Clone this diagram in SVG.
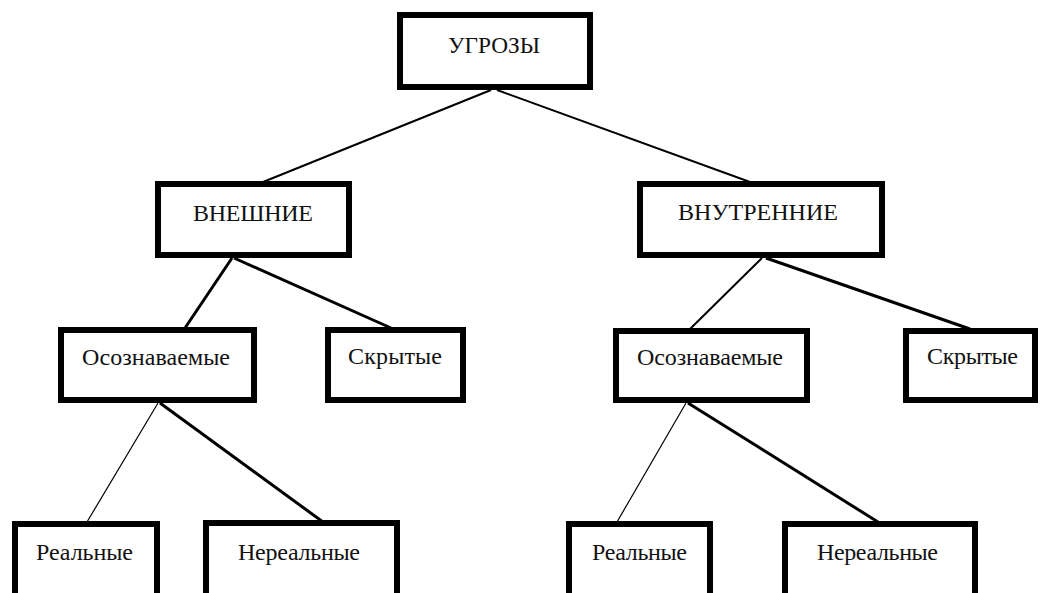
<svg xmlns="http://www.w3.org/2000/svg" width="1040" height="593" viewBox="0 0 1040 593">
<style>
  .box { fill: #ffffff; stroke: #000000; stroke-width: 6; }
  .lbl { font-family: "Liberation Serif", "Times New Roman", serif; font-size: 24px; fill: #111111; }
  .c1 { stroke: #000000; stroke-width: 1.2; fill: none; }
  .c2 { stroke: #000000; stroke-width: 2; fill: none; }
  .c3 { stroke: #000000; stroke-width: 3; fill: none; }
</style>
<rect x="0" y="0" width="1040" height="593" fill="#ffffff"/>
<g id="connectors">
  <line class="c2" x1="491" y1="90" x2="263" y2="182"/>
  <line class="c2" x1="497" y1="90" x2="750" y2="182"/>
  <line class="c3" x1="232" y1="258" x2="185" y2="328"/>
  <line class="c3" x1="234" y1="258" x2="391" y2="328"/>
  <line class="c2" x1="762" y1="258" x2="690" y2="329"/>
  <line class="c3" x1="766" y1="258" x2="970" y2="329"/>
  <line class="c1" x1="158" y1="403" x2="87" y2="522"/>
  <line class="c3" x1="160" y1="403" x2="323" y2="522"/>
  <line class="c1" x1="686" y1="403" x2="617" y2="522"/>
  <line class="c3" x1="688" y1="403" x2="878" y2="522"/>
</g>
<g id="n-ugrozy">
  <rect class="box" x="400" y="15" width="190" height="72"/>
  <text class="lbl" x="448" y="53" textLength="92" lengthAdjust="spacingAndGlyphs">УГРОЗЫ</text>
</g>
<g id="n-vneshnie">
  <rect class="box" x="158" y="184" width="191" height="71"/>
  <text class="lbl" x="193" y="221" textLength="120">ВНЕШНИЕ</text>
</g>
<g id="n-vnutrennie">
  <rect class="box" x="640" y="184" width="242" height="71"/>
  <text class="lbl" x="678" y="220" textLength="160">ВНУТРЕННИЕ</text>
</g>
<g id="n-osozn-l">
  <rect class="box" x="61" y="330" width="193" height="70"/>
  <text class="lbl" x="82" y="365" textLength="148">Осознаваемые</text>
</g>
<g id="n-skryt-l">
  <rect class="box" x="328" y="330" width="135" height="70"/>
  <text class="lbl" x="348" y="364" textLength="94">Скрытые</text>
</g>
<g id="n-osozn-r">
  <rect class="box" x="616" y="331" width="191" height="69"/>
  <text class="lbl" x="637" y="365" textLength="146">Осознаваемые</text>
</g>
<g id="n-skryt-r">
  <rect class="box" x="906" y="331" width="129" height="69"/>
  <text class="lbl" x="927" y="364" textLength="91">Скрытые</text>
</g>
<g id="n-real-l">
  <rect class="box" x="15" y="524" width="142" height="80"/>
  <text class="lbl" x="36" y="560" textLength="97">Реальные</text>
</g>
<g id="n-nereal-l">
  <rect class="box" x="206" y="523" width="191" height="80"/>
  <text class="lbl" x="238" y="560" textLength="122">Нереальные</text>
</g>
<g id="n-real-r">
  <rect class="box" x="569" y="524" width="141" height="80"/>
  <text class="lbl" x="592" y="560" textLength="95">Реальные</text>
</g>
<g id="n-nereal-r">
  <rect class="box" x="785" y="524" width="190" height="80"/>
  <text class="lbl" x="817" y="560" textLength="121">Нереальные</text>
</g>
</svg>
